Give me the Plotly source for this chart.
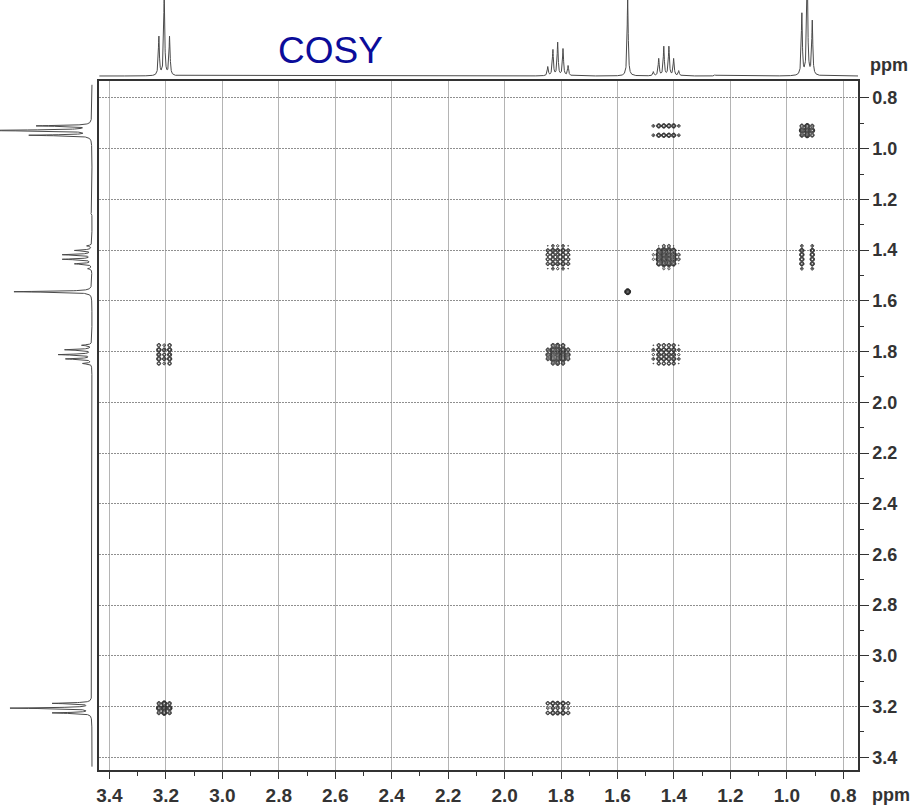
import numpy as np
import plotly.graph_objects as go

# ---- 1H lines (ppm) and 1D heights (px above baseline) -------------------
h1_ppm = [3.225, 3.206, 3.187]            # CH2-I triplet
h1_height = [39, 81, 39]
h2_ppm = [1.847, 1.829, 1.812, 1.793, 1.775]   # CH2 quintet
h2_height = [9, 26, 33, 27, 10]
hod_ppm = [1.564]                          # residual water singlet
hod_height = [78]
h3_ppm = [1.473, 1.454, 1.436, 1.418, 1.401, 1.383]   # CH2 sextet
h3_height = [4, 17, 29, 29, 17, 5]
h4_ppm = [0.947, 0.928, 0.910]            # CH3 triplet
h4_height = [62, 115, 54]
minor_ppm = [1.255]
minor_height = [1.2]

# relative line weights seen inside the off-diagonal (cross) peaks
h1_cross = [1.0, 0.55, 1.0]
h2_cross = [0.5, 1.0, 0.8, 1.0, 0.5]
h3_cross = [0.3, 0.9, 1.0, 1.0, 0.9, 0.3]
h4_cross = [1.0, 0.12, 1.0]

multiplets = {
    "H1": (h1_ppm, h1_height, h1_cross),
    "H2": (h2_ppm, h2_height, h2_cross),
    "HOD": (hod_ppm, hod_height, [1.0]),
    "H3": (h3_ppm, h3_height, h3_cross),
    "H4": (h4_ppm, h4_height, h4_cross),
}
diagonal_peaks = ["H1", "H2", "HOD", "H3", "H4"]
cross_f2 = ["H1", "H2", "H2", "H3", "H3", "H4"]
cross_f1 = ["H2", "H1", "H3", "H2", "H4", "H3"]

x_ticks = [3.4, 3.2, 3.0, 2.8, 2.6, 2.4, 2.2, 2.0, 1.8, 1.6, 1.4, 1.2, 1.0, 0.8]
x_minor = [3.3, 3.1, 2.9, 2.7, 2.5, 2.3, 2.1, 1.9, 1.7, 1.5, 1.3, 1.1, 0.9]
y_ticks = [0.8, 1.0, 1.2, 1.4, 1.6, 1.8, 2.0, 2.2, 2.4, 2.6, 2.8, 3.0, 3.2, 3.4]
y_minor = [0.9, 1.1, 1.3, 1.5, 1.7, 1.9, 2.1, 2.3, 2.5, 2.7, 2.9, 3.1, 3.3]

X_RANGE = [3.436, 0.748]
Y_RANGE = [3.45, 0.733]

W, H = 918, 808
INK = "#333333"
SPEC = "#4a4a4a"


def lorentz(grid, centers, heights, hw):
    out = np.zeros_like(grid)
    for c, h in zip(centers, heights):
        out += h * hw ** 2 / ((grid - c) ** 2 + hw ** 2)
    return out


def gauss(grid, centers, weights, sig):
    out = np.zeros_like(grid)
    for c, w in zip(centers, weights):
        out += w * np.exp(-0.5 * ((grid - c) / sig) ** 2)
    return out


# 1D projection traces
all_ppm = h1_ppm + h2_ppm + hod_ppm + h3_ppm + h4_ppm + minor_ppm
all_height = h1_height + h2_height + hod_height + h3_height + h4_height + minor_height
ppm_grid = np.arange(0.748, 3.437, 0.0004)
spectrum = lorentz(ppm_grid, all_ppm, all_height, 0.0022)

fig = go.Figure()

fig.add_trace(go.Scatter(x=ppm_grid, y=spectrum, xaxis="x2", yaxis="y2",
                         mode="lines", line=dict(color=SPEC, width=1),
                         hoverinfo="skip"))
fig.add_trace(go.Scatter(x=spectrum, y=ppm_grid, xaxis="x3", yaxis="y3",
                         mode="lines", line=dict(color=SPEC, width=1),
                         hoverinfo="skip"))

ink_scale = [[0, "#222222"], [1, "#222222"]]


def contour_peak(xs, wx, ys, wy, sx, sy, start, step, width):
    cx, cy = np.mean(xs), np.mean(ys)
    gx = np.arange(cx - 0.07, cx + 0.07, 0.0012)
    gy = np.arange(cy - 0.07, cy + 0.07, 0.0012)
    px = gauss(gx, xs, wx, sx)
    py = gauss(gy, ys, wy, sy)
    inten = np.outer(py, px)
    z = np.log10(np.maximum(inten / inten.max(), 1e-5))
    return go.Contour(x=gx, y=gy, z=z, showscale=False, hoverinfo="skip",
                      colorscale=ink_scale,
                      contours=dict(start=start, end=-0.02, size=step,
                                    coloring="lines"),
                      line=dict(width=width))


# diagonal peaks (dense merged blobs)
for name in diagonal_peaks:
    p, h, _ = multiplets[name]
    hn = list(np.array(h) / max(h))
    fig.add_trace(contour_peak(p, hn, p, hn, 0.0048, 0.0054, -1.0, 0.14, 0.8))

# cross peaks (resolved dot patterns)
for f2, f1 in zip(cross_f2, cross_f1):
    px_, _, wx = multiplets[f2]
    py_, _, wy = multiplets[f1]
    fig.add_trace(contour_peak(px_, wx, py_, wy, 0.0039, 0.0043, -0.85, 0.28, 1.0))

dx0, dx1 = 99.3 / W, 858 / W
dy0, dy1 = 1 - 770 / H, 1 - 81 / H

fig.update_layout(
    width=W, height=H,
    margin=dict(l=0, r=0, t=0, b=0),
    paper_bgcolor="white", plot_bgcolor="white",
    showlegend=False,
    xaxis=dict(
        domain=[dx0, dx1], anchor="y", range=X_RANGE, autorange=False,
        tickmode="array", tickvals=x_ticks,
        ticktext=[f"{v:.1f}" for v in x_ticks],
        ticks="outside", ticklen=7, tickwidth=1.2, tickcolor=INK,
        tickfont=dict(family="Liberation Sans Narrow, Arial Narrow, Liberation Sans",
                      size=19, color=INK, weight="bold"),
        showline=True, linecolor=INK, linewidth=1.5, mirror=True,
        showgrid=True, gridcolor="#b4b4b4", gridwidth=1, griddash="solid",
        zeroline=False, automargin=False,
        minor=dict(tickvals=x_minor, ticks="outside", ticklen=4,
                   tickcolor=INK, tickwidth=1, showgrid=False),
    ),
    yaxis=dict(
        domain=[dy0, dy1], anchor="x", side="right", range=Y_RANGE,
        autorange=False,
        tickmode="array", tickvals=y_ticks,
        ticktext=[f"{v:.1f}" for v in y_ticks],
        ticks="outside", ticklen=9, tickwidth=1.2, tickcolor=INK,
        tickfont=dict(family="Liberation Sans, Arial", size=18, color=INK,
                      weight="bold"),
        showline=True, linecolor=INK, linewidth=1.5, mirror=True,
        showgrid=True, gridcolor="#8f8f8f", gridwidth=1, griddash="2px,1px",
        zeroline=False, automargin=False,
        minor=dict(tickvals=y_minor, ticks="outside", ticklen=4,
                   tickcolor=INK, tickwidth=1, showgrid=False),
    ),
    # top projection
    xaxis2=dict(domain=[dx0, dx1], anchor="y2", range=X_RANGE, autorange=False,
                visible=False),
    yaxis2=dict(domain=[1 - 78 / H, 1], anchor="x2", range=[-2, 76],
                autorange=False, visible=False),
    # left projection
    xaxis3=dict(domain=[0, 94 / W], anchor="y3", range=[92, -2],
                autorange=False, visible=False),
    yaxis3=dict(domain=[dy0, dy1], anchor="x3", range=Y_RANGE,
                autorange=False, visible=False),
    annotations=[
        dict(text="COSY", x=330 / W, y=1 - 50 / H, xref="paper", yref="paper",
             showarrow=False, xanchor="center", yanchor="middle",
             font=dict(family="Liberation Sans, Arial", size=37, color="#0b0c9a")),
        dict(text="ppm", x=889 / W, y=1 - 65 / H, xref="paper", yref="paper",
             showarrow=False, xanchor="center", yanchor="middle",
             font=dict(family="Liberation Sans, Arial", size=18, color=INK,
                       weight="bold")),
        dict(text="ppm", x=891 / W, y=1 - 795 / H, xref="paper", yref="paper",
             showarrow=False, xanchor="center", yanchor="middle",
             font=dict(family="Liberation Sans, Arial", size=18, color=INK,
                       weight="bold")),
    ],
)

fig.write_html("out.html")
